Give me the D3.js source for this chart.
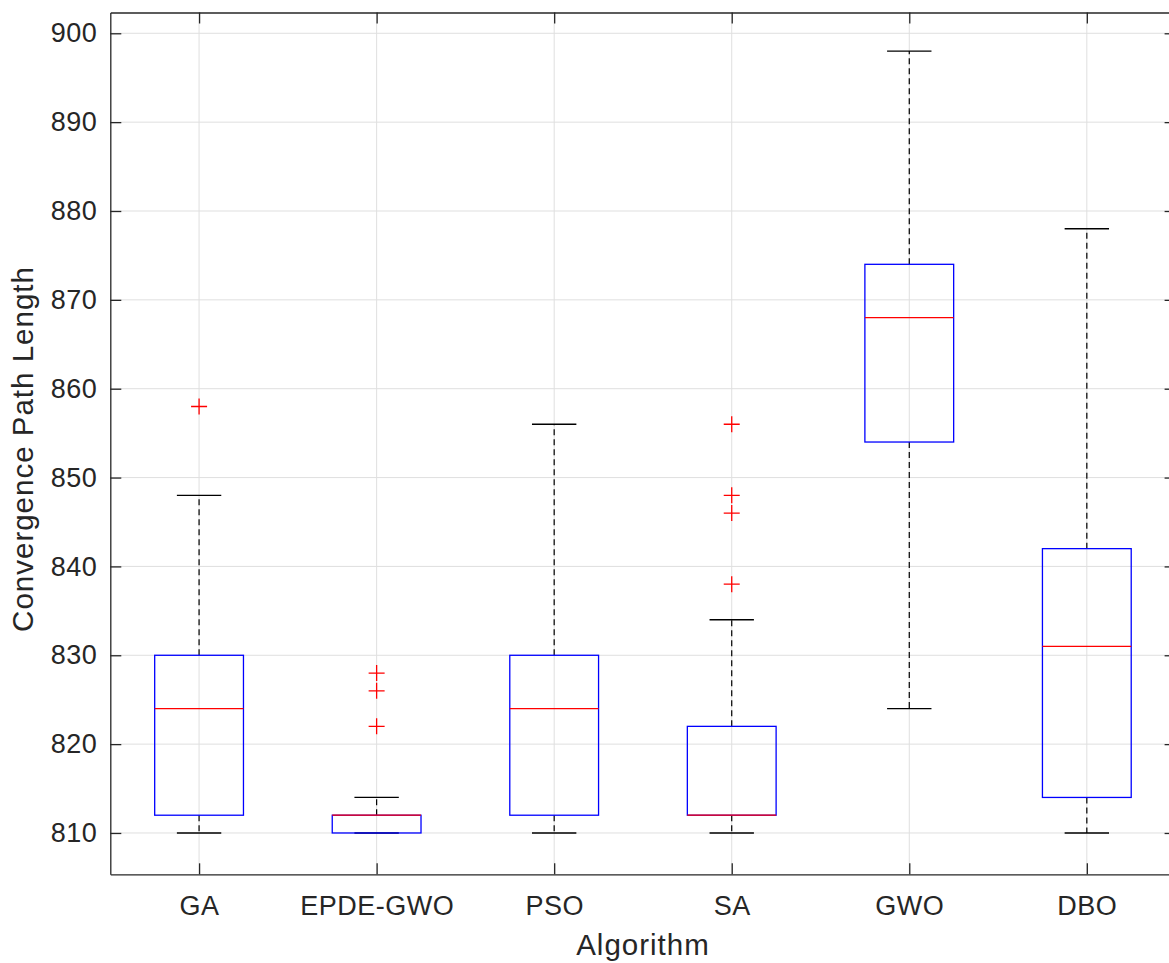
<!DOCTYPE html>
<html>
<head>
<meta charset="utf-8">
<script src="https://cdn.jsdelivr.net/npm/d3@7"></script>
<style>
    body { margin: 0; background: #fff; }
    svg { display: block; font-family: "Liberation Sans", Arial, Helvetica, sans-serif; }
</style>
</head>
<body>
<svg id="canvas"></svg>
<script>
// box plot stats
let categories = ["GA", "EPDE-GWO", "PSO", "SA", "GWO", "DBO"]
let whiskerLow  = [810, 810, 810, 810, 824, 810]
let q1          = [812, 810, 812, 812, 854, 814]
let median      = [824, 812, 824, 812, 868, 831]
let q3          = [830, 812, 830, 822, 874, 842]
let whiskerHigh = [848, 814, 856, 834, 898, 878]
let outliers    = [[858], [822, 826, 828], [], [838, 846, 848, 856], [], []]
let yTicks      = [810, 820, 830, 840, 850, 860, 870, 880, 890, 900]

let width = 1169, height = 963
// plot area (right edge falls just outside the picture, as in the figure)
let pLeft = 110.3, pRight = 1175.6, pTop = 12.5, pBottom = 874.3

let svg = d3.select("#canvas")
    .attr("width", width)
    .attr("height", height)

let x = d3.scaleLinear().domain([0.5, categories.length + 0.5]).range([pLeft, pRight])
let y = d3.scaleLinear().domain([805.35, 902.34]).range([pBottom, pTop])

let axisColor = "#262626"
let tickLen = 11

// grid
let grid = svg.append("g").attr("class", "grid")
grid.selectAll(".gy").data(yTicks).enter().append("line")
    .attr("x1", pLeft).attr("x2", pRight)
    .attr("y1", d => y(d)).attr("y2", d => y(d))
    .attr("stroke", "#dfdfdf").attr("stroke-width", 1)
grid.selectAll(".gx").data(categories).enter().append("line")
    .attr("x1", (d, i) => x(i + 1)).attr("x2", (d, i) => x(i + 1))
    .attr("y1", pTop).attr("y2", pBottom)
    .attr("stroke", "#dfdfdf").attr("stroke-width", 1)

// axes (box style, ticks inward)
let yAxisL = d3.axisLeft(y).tickValues(yTicks).tickSizeInner(-tickLen).tickSizeOuter(0).tickPadding(13)
let yAxisR = d3.axisRight(y).tickValues(yTicks).tickSizeInner(-tickLen).tickSizeOuter(0).tickFormat("")
let xAxisB = d3.axisBottom(x).tickValues(d3.range(1, categories.length + 1))
    .tickSizeInner(-tickLen).tickSizeOuter(0).tickPadding(22)
    .tickFormat(d => categories[d - 1])
let xAxisT = d3.axisTop(x).tickValues(d3.range(1, categories.length + 1))
    .tickSizeInner(-tickLen).tickSizeOuter(0).tickFormat("")

let gL = svg.append("g").attr("transform", `translate(${pLeft},0)`).call(yAxisL)
let gR = svg.append("g").attr("transform", `translate(${pRight},0)`).call(yAxisR)
let gB = svg.append("g").attr("transform", `translate(0,${pBottom})`).call(xAxisB)
let gT = svg.append("g").attr("transform", `translate(0,${pTop})`).call(xAxisT)

for (let g of [gL, gR, gB, gT]) {
    g.select(".domain").attr("stroke", axisColor).attr("stroke-width", 1.3)
    g.selectAll(".tick line").attr("stroke", axisColor).attr("stroke-width", 1.3)
    g.selectAll(".tick text")
        .attr("fill", axisColor)
        .attr("font-size", 27)
        .attr("letter-spacing", 0.5)
        .attr("font-family", "'Liberation Sans', Arial, sans-serif")
}

// boxes
let plot = svg.append("g").attr("class", "boxes")
let boxHalf = 0.25, capHalf = 0.125

categories.forEach((c, i) => {
    let cx = x(i + 1)
    let g = plot.append("g").attr("class", "box")

    // whiskers dashed
    g.append("line")
        .attr("x1", cx).attr("x2", cx)
        .attr("y1", y(q3[i])).attr("y2", y(whiskerHigh[i]))
        .attr("stroke", "#000").attr("stroke-width", 1.2)
        .attr("stroke-dasharray", "6,4")
    g.append("line")
        .attr("x1", cx).attr("x2", cx)
        .attr("y1", y(q1[i])).attr("y2", y(whiskerLow[i]))
        .attr("stroke", "#000").attr("stroke-width", 1.2)
        .attr("stroke-dasharray", "6,4")

    // caps
    for (let v of [whiskerLow[i], whiskerHigh[i]]) {
        g.append("line")
            .attr("x1", x(i + 1 - capHalf)).attr("x2", x(i + 1 + capHalf))
            .attr("y1", y(v)).attr("y2", y(v))
            .attr("stroke", "#000").attr("stroke-width", 1.3)
    }

    g.append("rect")
        .attr("x", x(i + 1 - boxHalf))
        .attr("y", y(q3[i]))
        .attr("width", x(i + 1 + boxHalf) - x(i + 1 - boxHalf))
        .attr("height", y(q1[i]) - y(q3[i]))
        .attr("fill", "none")
        .attr("stroke", "#0000ff")
        .attr("stroke-width", 1.3)

    g.append("line")
        .attr("x1", x(i + 1 - boxHalf)).attr("x2", x(i + 1 + boxHalf))
        .attr("y1", y(median[i])).attr("y2", y(median[i]))
        .attr("stroke", "#ff0000").attr("stroke-width", 1.3)

    // outliers as red plus
    g.selectAll(".out").data(outliers[i]).enter().append("path")
        .attr("d", d => `M${cx - 8},${y(d)} H${cx + 8} M${cx},${y(d) - 8} V${y(d) + 8}`)
        .attr("stroke", "#ff0000").attr("stroke-width", 1.3)
        .attr("fill", "none")
})

// axis labels
svg.append("text")
    .attr("x", 643)
    .attr("y", 955)
    .attr("text-anchor", "middle")
    .attr("font-size", 29.5)
    .attr("letter-spacing", 1)
    .attr("fill", axisColor)
    .text("Algorithm")

svg.append("text")
    .attr("transform", `translate(33,449) rotate(-90)`)
    .attr("text-anchor", "middle")
    .attr("font-size", 29.5)
    .attr("letter-spacing", 1)
    .attr("fill", axisColor)
    .text("Convergence Path Length")
</script>
</body>
</html>
